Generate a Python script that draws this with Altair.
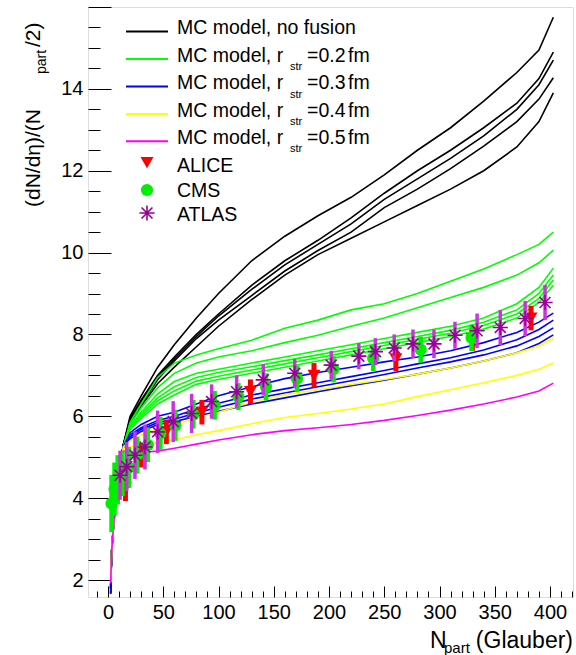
import altair as alt
import pandas as pd

# ---------------- data ----------------
X_MODEL = [2.4, 3.3, 5.4, 9.3, 13.9, 20, 30, 45, 60, 80, 100, 130, 160, 190, 220, 250, 280, 310, 340, 370, 390, 403]

BLACK = [
    [1.80, 2.7, 3.5, 4.5, 5.30, 6.00, 6.50, 7.20, 7.75, 8.40, 9.00, 9.80, 10.40, 10.90, 11.35, 11.90, 12.50, 13.05, 13.70, 14.40, 14.95, 15.75],
    [1.80, 2.7, 3.5, 4.5, 5.30, 5.95, 6.40, 7.00, 7.45, 8.00, 8.50, 9.20, 9.80, 10.30, 10.85, 11.45, 12.00, 12.50, 13.05, 13.65, 14.25, 14.90],
    [1.80, 2.7, 3.5, 4.5, 5.30, 5.92, 6.35, 6.95, 7.40, 7.95, 8.45, 9.10, 9.70, 10.20, 10.70, 11.30, 11.80, 12.30, 12.85, 13.50, 14.10, 14.70],
    [1.80, 2.7, 3.5, 4.5, 5.30, 5.90, 6.30, 6.90, 7.35, 7.90, 8.35, 8.95, 9.55, 10.05, 10.50, 11.10, 11.55, 12.05, 12.60, 13.20, 13.75, 14.27],
    [1.80, 2.7, 3.5, 4.5, 5.30, 5.85, 6.25, 6.80, 7.20, 7.70, 8.20, 8.85, 9.45, 9.95, 10.35, 10.75, 11.15, 11.55, 12.00, 12.58, 13.20, 13.90],
]
GREEN = [
    [1.85, 2.7, 3.5, 4.45, 5.25, 5.85, 6.30, 6.95, 7.30, 7.50, 7.65, 7.86, 8.15, 8.35, 8.60, 8.75, 9.00, 9.30, 9.60, 9.95, 10.20, 10.50],
    [1.85, 2.7, 3.5, 4.45, 5.25, 5.80, 6.20, 6.70, 7.05, 7.30, 7.45, 7.60, 7.80, 7.98, 8.20, 8.40, 8.65, 8.90, 9.15, 9.45, 9.75, 10.06],
    [1.85, 2.7, 3.5, 4.45, 5.25, 5.75, 6.10, 6.55, 6.85, 7.05, 7.15, 7.30, 7.45, 7.60, 7.75, 7.90, 8.05, 8.20, 8.40, 8.75, 9.15, 9.62],
    [1.85, 2.7, 3.5, 4.45, 5.25, 5.72, 6.05, 6.45, 6.72, 6.95, 7.07, 7.21, 7.36, 7.50, 7.65, 7.80, 7.95, 8.10, 8.30, 8.60, 9.00, 9.45],
    [1.85, 2.7, 3.5, 4.45, 5.25, 5.70, 6.00, 6.38, 6.62, 6.86, 6.98, 7.13, 7.28, 7.43, 7.58, 7.73, 7.88, 8.03, 8.22, 8.50, 8.88, 9.33],
    [1.85, 2.7, 3.5, 4.45, 5.25, 5.68, 5.95, 6.30, 6.52, 6.78, 6.90, 7.05, 7.20, 7.35, 7.50, 7.65, 7.80, 7.95, 8.13, 8.40, 8.78, 9.20],
]
BLUE = [
    [1.67, 2.69, 3.46, 4.45, 5.25, 5.60, 5.80, 6.00, 6.10, 6.30, 6.50, 6.72, 6.92, 7.07, 7.20, 7.33, 7.45, 7.60, 7.80, 8.05, 8.30, 8.52],
    [1.67, 2.69, 3.46, 4.45, 5.25, 5.55, 5.72, 5.90, 6.00, 6.17, 6.32, 6.52, 6.67, 6.82, 6.97, 7.12, 7.28, 7.43, 7.62, 7.87, 8.12, 8.35],
    [1.67, 2.69, 3.46, 4.45, 5.25, 5.50, 5.68, 5.85, 5.93, 6.08, 6.22, 6.42, 6.57, 6.72, 6.87, 7.02, 7.18, 7.33, 7.50, 7.72, 7.95, 8.16],
    [1.67, 2.69, 3.46, 4.45, 5.25, 5.45, 5.63, 5.80, 5.87, 6.00, 6.12, 6.30, 6.45, 6.60, 6.75, 6.88, 7.03, 7.18, 7.35, 7.55, 7.78, 7.99],
]
YELLOW = [
    [1.95, 2.7, 3.46, 4.45, 5.25, 5.40, 5.55, 5.70, 5.80, 5.95, 6.10, 6.35, 6.53, 6.65, 6.78, 6.90, 7.03, 7.18, 7.35, 7.55, 7.72, 7.90],
    [1.95, 2.7, 3.46, 4.45, 5.20, 5.25, 5.30, 5.35, 5.42, 5.55, 5.65, 5.82, 5.97, 6.07, 6.18, 6.30, 6.48, 6.65, 6.82, 7.00, 7.15, 7.30],
]
MAGENTA = [
    [1.92, 2.7, 3.46, 4.45, 5.15, 5.10, 5.12, 5.15, 5.22, 5.32, 5.42, 5.55, 5.65, 5.72, 5.80, 5.90, 6.02, 6.15, 6.30, 6.47, 6.62, 6.81],
]

ALICE_X = [382.8, 329.7, 260.5, 186.4, 128.9, 85.0, 52.8, 30.0, 15.8]
ALICE_Y = [8.40, 7.90, 7.40, 7.00, 6.60, 6.10, 5.62, 5.05, 4.25]
ALICE_ERR = [0.30, 0.30, 0.30, 0.30, 0.30, 0.30, 0.30, 0.30, 0.32]

CMS_X = [329.0, 283.0, 240.0, 204.0, 171.0, 143.0, 118.0, 96.5, 77.2, 61.0, 47.4, 36.0, 26.3, 18.8, 13.1, 8.8, 5.9, 3.2]
CMS_Y = [7.92, 7.63, 7.42, 7.15, 6.92, 6.72, 6.48, 6.27, 6.05, 5.78, 5.58, 5.30, 5.05, 4.75, 4.60, 4.45, 4.22, 3.87]
CMS_ERR = [0.32, 0.32, 0.32, 0.32, 0.32, 0.33, 0.33, 0.35, 0.35, 0.38, 0.40, 0.42, 0.45, 0.50, 0.55, 0.60, 0.65, 0.70]

ATLAS_X = [10.9, 16.9, 24.4, 33.5, 44.9, 59.0, 75.7, 93.8, 116.4, 140.5, 169.0, 202.0, 227.0, 242.0, 259.0, 276.0, 295.0, 314.0, 334.0, 355.0, 377.5, 395.5]
ATLAS_Y = [4.56, 4.77, 5.05, 5.25, 5.62, 5.87, 6.07, 6.36, 6.60, 6.89, 7.05, 7.25, 7.47, 7.58, 7.67, 7.77, 7.77, 7.98, 8.09, 8.17, 8.39, 8.78]
ATLAS_ERR = [0.60, 0.60, 0.58, 0.55, 0.52, 0.50, 0.48, 0.42, 0.40, 0.38, 0.35, 0.35, 0.32, 0.33, 0.33, 0.35, 0.35, 0.33, 0.42, 0.43, 0.43, 0.43]

X_LABELS = [0, 50, 100, 150, 200, 250, 300, 350, 400]
Y_LABELS = [2, 4, 6, 8, 10, 12, 14]

LEGEND_MODELS = [("no fusion", None, "#000000"), ("0.2", "fm", "#00ff00"), ("0.3", "fm", "#0000ff"),
                 ("0.4", "fm", "#ffff00"), ("0.5", "fm", "#ff00ff")]

# ---------------- layout ----------------
W, H = 485, 590
XDOM = [-18.1, 420.8]
YDOM = [1.585, 16.0]
FONT = "Liberation Sans"
ASTER = "M-1,0L1,0M0,-1L0,1M-0.72,-0.72L0.72,0.72M-0.72,0.72L0.72,-0.72"

xs = alt.Scale(domain=XDOM, nice=False, zero=False)
ys = alt.Scale(domain=YDOM, nice=False, zero=False)

rows = []
for fam, curves in [("black", BLACK), ("green", GREEN), ("blue", BLUE), ("yellow", YELLOW), ("magenta", MAGENTA)]:
    for i, c in enumerate(curves):
        for k, (xv, yv) in enumerate(zip(X_MODEL, c)):
            rows.append(dict(x=xv, y=yv, curve=f"{fam}{i}", fam=fam, k=k))
model = pd.DataFrame(rows)
fams = ["black", "green", "blue", "yellow", "magenta"]
cols = ["#000000", "#00ff00", "#0000ff", "#ffff00", "#ff00ff"]

lines = alt.Chart(model).mark_line(strokeWidth=1.6).encode(
    x=alt.X("x:Q", scale=xs, axis=alt.Axis(values=X_LABELS, tickSize=0, domain=False, grid=False,
                                           labelFont=FONT, labelFontSize=20, labelColor="black",
                                           labelPadding=5, title=None, orient="bottom")),
    y=alt.Y("y:Q", scale=ys, axis=alt.Axis(values=Y_LABELS, tickSize=0, domain=False, grid=False,
                                           labelFont=FONT, labelFontSize=20, labelColor="black",
                                           labelPadding=5, title=None, orient="left")),
    color=alt.Color("fam:N", scale=alt.Scale(domain=fams, range=cols), legend=None),
    detail="curve:N",
    order="k:Q",
)

x_major = list(range(0, 421, 50))
x_minor = [v for v in range(-10, 421, 10) if v % 50 != 0]
y_major = [2, 4, 6, 8, 10, 12, 14, 16]
y_minor = [v / 2 for v in range(4, 32) if v % 4 != 0]

def tick_layer(xv, xlen, yv, ylen):
    return alt.Chart(model).mark_point(opacity=0).encode(
        x=alt.X("x:Q", scale=xs, axis=alt.Axis(orient="top", offset=-H, values=xv, tickSize=xlen,
                                               tickColor="black", tickWidth=1, labels=False,
                                               domain=False, grid=False, title=None)),
        y=alt.Y("y:Q", scale=ys, axis=alt.Axis(orient="right", offset=-W, values=yv, tickSize=ylen,
                                               tickColor="black", tickWidth=1, labels=False,
                                               domain=False, grid=False, title=None)),
    )

ticks_major = tick_layer(x_major, 11, y_major, 23)
ticks_minor = tick_layer(x_minor, 6, y_minor, 12)

def pts(xv, yv, ev):
    return pd.DataFrame({"x": xv, "y": yv, "lo": [a - b for a, b in zip(yv, ev)],
                         "hi": [a + b for a, b in zip(yv, ev)]})

alice = pts(ALICE_X, ALICE_Y, ALICE_ERR)
cms = pts(CMS_X, CMS_Y, CMS_ERR)
atlas = pts(ATLAS_X, ATLAS_Y, ATLAS_ERR)

def bars(df, color, width):
    return alt.Chart(df).mark_rule(color=color, strokeWidth=width).encode(
        x=alt.X("x:Q", scale=xs, axis=None), y=alt.Y("lo:Q", scale=ys, axis=None), y2="hi:Q")

def marks(df, **kw):
    return alt.Chart(df).mark_point(opacity=1, **kw).encode(
        x=alt.X("x:Q", scale=xs, axis=None), y=alt.Y("y:Q", scale=ys, axis=None))

alice_b = bars(alice, "#ff0000", 5)
alice_m = marks(alice, shape="triangle-down", filled=True, color="#ff0000", size=170)
cms_b = bars(cms, "#00ee00", 4.5)
cms_m = marks(cms, shape="circle", filled=True, color="#00ee00", size=150)
atlas_b = bars(atlas, "#cc33dd", 3.5)
atlas_m = marks(atlas, shape=ASTER, filled=False, color="#990099", strokeWidth=1.6, size=230)

one = pd.DataFrame({"a": [0]})

def txt(s, x, y, size=19.5, angle=0, align="left"):
    return alt.Chart(one).mark_text(text=s, font=FONT, fontSize=size, color="black", align=align,
                                    baseline="alphabetic", angle=angle).encode(
        x=alt.value(x), y=alt.value(y))

layers = [lines, ticks_major, ticks_minor, alice_b, alice_m, cms_b, cms_m, atlas_b, atlas_m]

# legend
LX0, LX1, TX = 38, 80, 89
base_y = [27.3, 54.7, 82.3, 109.7, 137.0]
for (val, unit, col), by in zip(LEGEND_MODELS, base_y):
    layers.append(alt.Chart(one).mark_rule(color=col, strokeWidth=2).encode(
        x=alt.value(LX0), x2=alt.value(LX1), y=alt.value(by - 2.8)))
    if unit is None:
        layers.append(txt("MC model, " + val, TX, by))
    else:
        layers.append(txt("MC model, r", TX, by))
        layers.append(txt("str", 202, by + 8.3, size=11))
        layers.append(txt("=" + val, 219, by))
        layers.append(txt(unit, 260, by))

data_leg = [("ALICE", 164.7), ("CMS", 190.3), ("ATLAS", 213.7)]
layers.append(alt.Chart(one).mark_point(shape="triangle-down", filled=True, color="#ff0000", size=170, opacity=1)
              .encode(x=alt.value(59), y=alt.value(155.7)))
layers.append(alt.Chart(one).mark_point(shape="circle", filled=True, color="#00ee00", size=150, opacity=1)
              .encode(x=alt.value(59), y=alt.value(183)))
layers.append(alt.Chart(one).mark_point(shape=ASTER, filled=False, color="#990099", strokeWidth=1.6, size=230, opacity=1)
              .encode(x=alt.value(59), y=alt.value(206)))
for s, by in data_leg:
    layers.append(txt(s, TX, by))

# axis titles
layers.append(txt("(Glauber)", W, 641, size=23, align="right"))
layers.append(txt("part", 356, 646, size=15))
layers.append(txt("N", 342, 641, size=23))

layers.append(txt("(dN/dη)/(N", -48, 200, size=21, angle=270))
layers.append(txt("part", -42, 67, size=14, angle=270))
layers.append(txt("/2)", -48, 40, size=21, angle=270))

chart = alt.layer(*layers).resolve_axis(x="independent", y="independent").properties(
    width=W, height=H,
    autosize=alt.AutoSizeParams(type="none"),
    padding={"left": 88, "top": 7, "right": 3, "bottom": 58},
).configure_view(stroke="black", strokeWidth=1.5).configure(background="white")

chart.save("out.html", embed_options={"renderer": "svg", "actions": False})
